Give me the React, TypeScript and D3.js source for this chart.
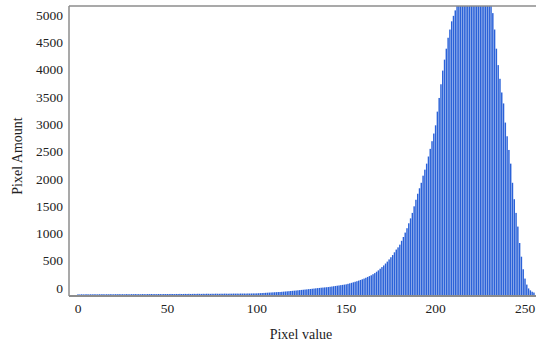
import React from "react";
import * as d3 from "d3";

const pixelValues: number[] = Array.from({ length: 256 }, (_, i) => i);

const lowCounts: number[] = [
  12, 10, 13, 11, 12, 14, 11, 13, 12, 14,
  13, 12, 14, 13, 15, 12, 14, 13, 15, 14,
  13, 15, 14, 16, 14, 15, 13, 16, 15, 14,
  16, 15, 17, 15, 16, 14, 17, 16, 15, 17,
  16, 18, 16, 17, 15, 18, 17, 16, 18, 17,
  18, 17, 19, 18, 17, 19, 18, 20, 18, 19,
  20, 19, 21, 19, 20, 21, 20, 22, 21, 20,
  22, 21, 23, 22, 21, 23, 22, 24, 23, 22,
  24, 23, 25, 24, 23, 25, 24, 26, 25, 26,
  25, 27, 26, 27, 26, 28, 27, 28, 29, 29,
];

const midCounts: number[] = [
  30, 32, 34, 36, 38, 40, 42, 44, 46, 48,
  50, 52, 54, 55, 58, 61, 64, 67, 70, 73,
  76, 79, 82, 86, 89, 93, 96, 100, 103, 107,
  110, 114, 118, 122, 126, 129, 133, 136, 139, 142,
  145, 150, 155, 160, 165, 170, 175, 180, 185, 190,
  195, 204, 213, 222, 232, 242, 252, 263, 275, 287,
  300, 315, 330, 345, 360, 380, 400, 425, 450, 480,
  510, 540, 575, 610, 650, 690, 730, 780, 830, 870,
  920, 990, 1060, 1140, 1220, 1310, 1400, 1500, 1620, 1740,
  1850, 1950, 2050, 2180, 2290, 2400, 2530, 2670, 2810, 2950,
];

const highCounts: number[] = [
  3100, 3350, 3600, 3850, 4100, 4300, 4500, 4700, 4850, 5000,
  5100, 5200, 5280, 5400, 5500, 5600, 5650, 5700, 5750, 5800,
  5800, 5800, 5750, 5750, 5700, 5650, 5600, 5550, 5500, 5450,
  5400, 5350, 5150, 4850, 4500, 4200, 3950, 3700, 3500, 3150,
  2900, 2650, 2400, 2050, 1750, 1500, 1250, 950, 700, 470,
  300, 190, 120, 85, 60, 45,
];

const counts: number[] = [...lowCounts, ...midCounts, ...highCounts];

const xTicks: number[] = [0, 50, 100, 150, 200, 250];
const yTicks: number[] = [0, 500, 1000, 1500, 2000, 2500, 3000, 3500, 4000, 4500, 5000];

const W = 536;
const H = 345;
const left = 69;
const top = 6;
const bottom = 295;

export default function App() {
  const x = d3.scaleLinear().domain([0, 250]).range([78, 525]);
  const y = d3.scaleLinear().domain([0, 5280]).range([bottom, top]);
  const yLab = d3.scaleLinear().domain([0, 5000]).range([288, 15]);
  const font = "'Liberation Serif', 'Times New Roman', serif";
  const barW = 1.45;

  return (
    <svg
      width={W}
      height={H}
      style={{ position: "absolute", left: 0, top: 0, background: "#fff" }}
    >
      <defs>
        <clipPath id="plotClip">
          <rect x={left} y={top} width={W - left} height={bottom - top} />
        </clipPath>
      </defs>
      <g clipPath="url(#plotClip)">
        {pixelValues.map((v, i) => {
          const yy = y(counts[i]);
          return (
            <rect
              key={v}
              x={x(v) - barW / 2}
              y={yy}
              width={barW}
              height={Math.max(0, bottom - yy)}
              fill="#2b62d8"
            />
          );
        })}
      </g>
      <line x1={left} x2={W} y1={top} y2={top} stroke="#8c8c8c" strokeWidth={1.5} />
      <line x1={left} x2={left} y1={top} y2={bottom + 1} stroke="#8c8c8c" strokeWidth={1.5} />
      <line x1={left} x2={W} y1={bottom + 1} y2={bottom + 1} stroke="#8c8c8c" strokeWidth={2} />
      {yTicks.map((t) => (
        <text
          key={t}
          x={63}
          y={yLab(t)}
          dy="0.35em"
          textAnchor="end"
          fontFamily={font}
          fontSize={13.5}
          fill="#222"
        >
          {t}
        </text>
      ))}
      {xTicks.map((t) => (
        <text
          key={t}
          x={x(t)}
          y={313}
          textAnchor="middle"
          fontFamily={font}
          fontSize={13.5}
          fill="#222"
        >
          {t}
        </text>
      ))}
      <text x={301} y={339} textAnchor="middle" fontFamily={font} fontSize={14} fill="#222">
        Pixel value
      </text>
      <text
        transform="translate(22,156) rotate(-90)"
        textAnchor="middle"
        fontFamily={font}
        fontSize={14}
        fill="#222"
      >
        Pixel Amount
      </text>
    </svg>
  );
}
